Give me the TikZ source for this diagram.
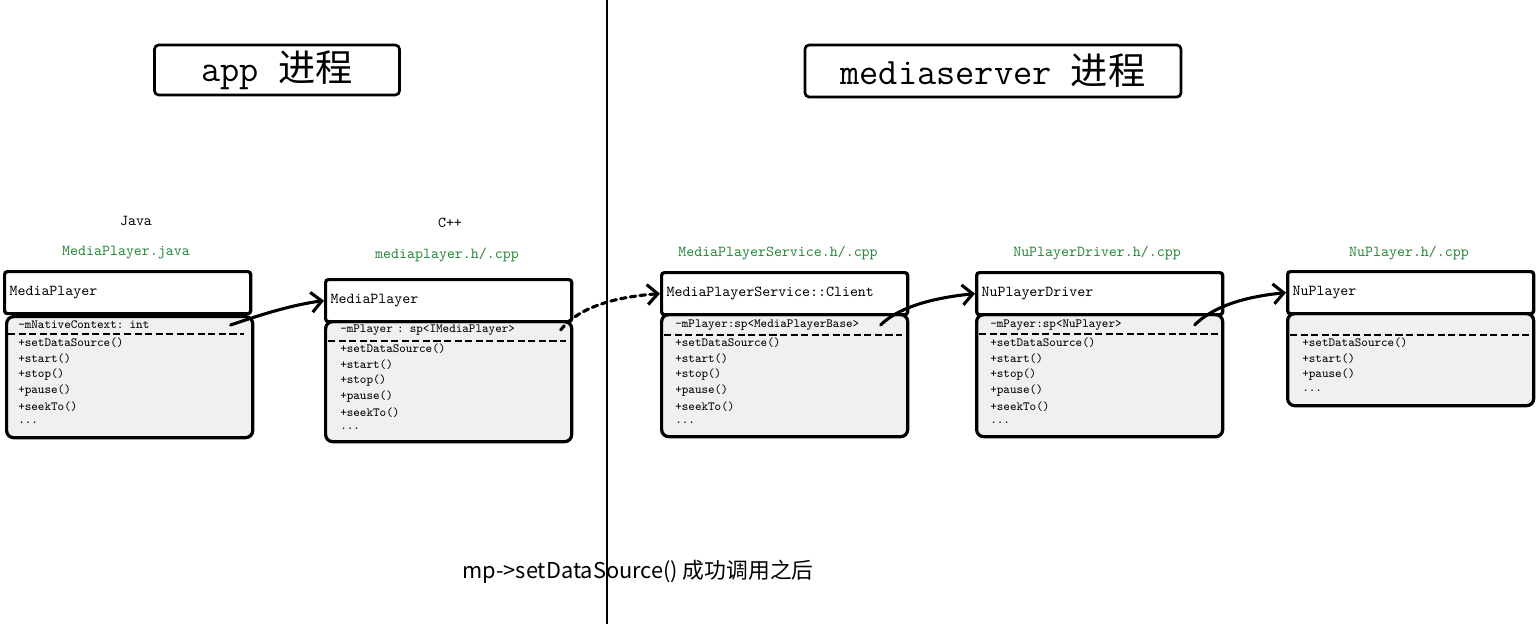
\documentclass[tikz,border=0pt]{standalone}
\usepackage{fontspec}
\newfontfamily\cjk{Noto Sans CJK SC}
\usetikzlibrary{positioning,arrows.meta}
\definecolor{filegreen}{RGB}{35,135,55}
\definecolor{bodygray}{RGB}{240,240,240}

\begin{document}
\begin{tikzpicture}[
  x=0.025cm, y=-0.025cm,
  title/.style={draw, line width=1.9pt, rounded corners=3pt, inner sep=0pt,
    font=\fontsize{26.5}{30}\selectfont\ttfamily},
  lang/.style={font=\fontsize{10.8}{13}\selectfont\ttfamily},
  file/.style={lang, text=filegreen},
  hdr/.style={draw, line width=2.3pt, fill=white, rounded corners=2pt, anchor=north west,
    inner xsep=0.125cm, text width=5.9cm, minimum height=1.05cm, align=left,
    font=\fontsize{10.8}{13}\selectfont\ttfamily},
  body/.style={draw, line width=2.3pt, fill=bodygray, rounded corners=5pt, anchor=north west,
    minimum width=6.15cm, inner sep=0pt},
  field/.style={anchor=west, inner sep=0pt, align=left, font=\fontsize{8.9}{11}\selectfont\ttfamily},
  item/.style={field},
  sep/.style={line width=1.9pt, dash pattern=on 5pt off 2.5pt},
  arr/.style={line width=2.2pt, line cap=round, -{Straight Barb[length=2.6mm, width=5mm]}}
]
  \useasboundingbox (0,0) rectangle (1536,624);

  % process titles
  \node[title, minimum width=6.125cm, minimum height=1.25cm] (app) at (277,70) {app \cjk 进程};
  \node[title, minimum width=9.4cm, minimum height=1.3cm] (srv) at (993,71) {mediaserver \cjk 进程};

  % file names
  \node[lang] (java) at (136,221) {Java};
  \node[lang] (cpp) at (450,223) {C++};
  \node[file] (jfile) at (126,253) {MediaPlayer.java};
  \node[file] (cfile) at (447,255) {mediaplayer.h/.cpp};
  \node[file] (sfile) at (778,253) {MediaPlayerService.h/.cpp};
  \node[file] (dfile) at (1097,253) {NuPlayerDriver.h/.cpp};
  \node[file] (nfile) at (1409,253) {NuPlayer.h/.cpp};

  % Java MediaPlayer
  \node[body, minimum height=3.025cm] (jbody) at (5,315) {};
  \node[hdr] (jhead) at (3,270) {MediaPlayer};
  \node[field, text width=5.3cm] (jfield) at (18,325) {-mNativeContext: int};
  \draw[sep] (8,334) -- (244,334);
  \foreach \m [count=\i from 0] in {+setDataSource(),+start(),+stop(),+pause(),+seekTo(),.{}.{}.}
    \node[item] (j\i) at (18,{343+16*\i}) {\m};

  % native MediaPlayer
  \node[body, minimum height=3.0cm] (cbody) at (324,320) {};
  \node[hdr] (chead) at (324,278) {MediaPlayer};
  \node[field, text width=5.5cm] (cfield) at (340,330) {-mPlayer : sp<IMediaPlayer>};
  \draw[sep] (328,341) -- (566,341);
  \foreach \m [count=\i from 0] in {+setDataSource(),+start(),+stop(),+pause(),+seekTo(),.{}.{}.}
    \node[item] (c\i) at (340,{349+16*\i}) {\m};

  % MediaPlayerService::Client
  \node[body, minimum height=3.05cm] (sbody) at (660,313) {};
  \node[hdr] (shead) at (660,271) {MediaPlayerService::Client};
  \node[field, text width=5.125cm] (sfield) at (675,325) {-mPlayer:sp<MediaPlayerBase>};
  \draw[sep] (664,335) -- (902,335);
  \foreach \m [count=\i from 0] in {+setDataSource(),+start(),+stop(),+pause(),+seekTo(),.{}.{}.}
    \node[item] (s\i) at (675,{343+16*\i}) {\m};

  % NuPlayerDriver
  \node[body, minimum height=3.05cm] (dbody) at (975,313) {};
  \node[hdr] (dhead) at (975,271) {NuPlayerDriver};
  \node[field, text width=5.1cm] (dfield) at (990,325) {-mPayer:sp<NuPlayer>};
  \draw[sep] (979,334) -- (1218,334);
  \foreach \m [count=\i from 0] in {+setDataSource(),+start(),+stop(),+pause(),+seekTo(),.{}.{}.}
    \node[item] (d\i) at (990,{343+16*\i}) {\m};

  % NuPlayer
  \node[body, minimum height=2.3cm] (nbody) at (1286,312) {};
  \node[hdr] (nhead) at (1286,270) {NuPlayer};
  \draw[sep] (1290,335) -- (1530,335);
  \foreach \m [count=\i from 0] in {+setDataSource(),+start(),+pause(),.{}.{}.}
    \node[item] (n\i) at (1302,{343+16*\i}) {\m};

  % references
  \draw[arr] (jfield.east) .. controls +(35,-12) and +(-30,4) .. (chead.west);
  \draw[arr, dash pattern=on 4pt off 3pt] (cfield.east) .. controls +(20,-25) and +(-40,3) .. (shead.west);
  \draw[arr] (sfield.east) .. controls +(15,-15) and +(-50,5) .. (dhead.west);
  \draw[arr] (dfield.east) .. controls +(15,-15) and +(-50,5) .. (nhead.west);

  \node[font=\cjk\fontsize{15.5}{18}\selectfont] (note) at (638,572) {mp->setDataSource() 成功调用之后};

  % process boundary
  \draw[line width=1.3pt] (607,0) -- (607,624);
\end{tikzpicture}
\end{document}
